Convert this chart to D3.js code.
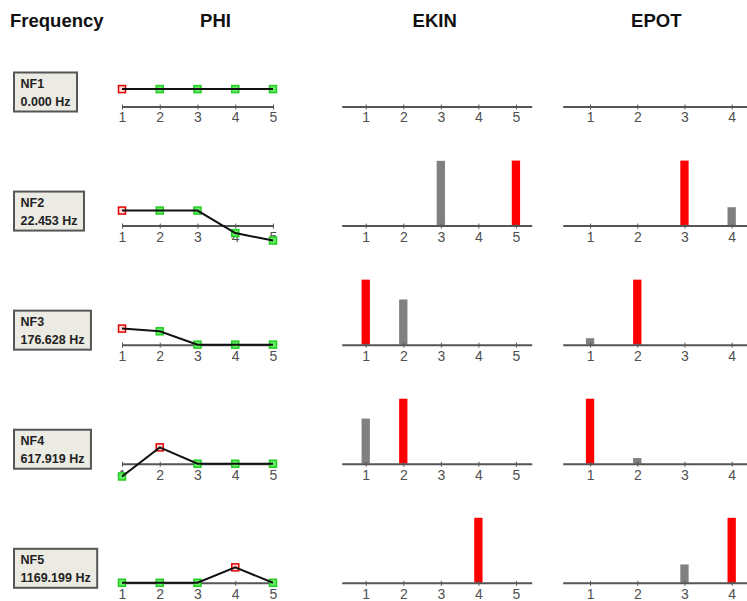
<!DOCTYPE html>
<html>
<head>
<meta charset="utf-8">
<script src="https://cdn.jsdelivr.net/npm/d3@7"></script>
<style>
  html, body { margin: 0; padding: 0; background: #fff; }
  svg { display: block; font-family: "Liberation Sans", Arial, sans-serif; }
</style>
</head>
<body>
<svg id="chart" width="747" height="601"></svg>
<script>
// ---- data ----
const columnHeaders = ["Frequency", "PHI", "EKIN", "EPOT"];
const modeNames = ["NF1", "NF2", "NF3", "NF4", "NF5"];
const modeFreqs = ["0.000 Hz", "22.453 Hz", "176.628 Hz", "617.919 Hz", "1169.199 Hz"];
const nodes = [1, 2, 3, 4, 5];
const epotVisibleTicks = [1, 2, 3, 4];
// PHI mode shape amplitudes (arbitrary units)
const phi1 = [1.16, 1.16, 1.16, 1.16, 1.16];
const phi2 = [1.0, 1.0, 1.0, -0.5, -1.0];
const phi3 = [1.07, 0.89, 0, 0, 0];
const phi4 = [-0.85, 1.09, 0, 0, 0];
const phi5 = [0, 0, 0, 1.03, 0];
// kinetic energy share (%)
const ekin1 = [0, 0, 0, 0, 0];
const ekin2 = [0, 0, 49.9, 0, 50.1];
const ekin3 = [59, 41, 0, 0, 0];
const ekin4 = [41, 59, 0, 0, 0];
const ekin5 = [0, 0, 0, 100, 0];
// potential energy share (%)
const epot1 = [0, 0, 0, 0, 0];
const epot2 = [0, 0, 78, 22, 0];
const epot3 = [9, 91, 0, 0, 0];
const epot4 = [92, 8, 0, 0, 0];
const epot5 = [0, 0, 22, 78, 0];

const phiRows = [phi1, phi2, phi3, phi4, phi5];
const ekinRows = [ekin1, ekin2, ekin3, ekin4, ekin5];
const epotRows = [epot1, epot2, epot3, epot4, epot5];

// ---- layout ----
const svg = d3.select("#chart");
const rowY = d3.scaleLinear().domain([0, 4]).range([106.5, 582.8]); // axis baseline of each row
const headerX = [10, 215.5, 434.7, 656.3];

const xPhi = d3.scaleLinear().domain([1, 5]).range([122, 273]);
const xEkin = d3.scaleLinear().domain([0.36, 5.42]).range([341.7, 531.7]);
const xEpot = d3.scaleLinear().domain([0.42, 5.42]).range([562.7, 798.7]);
const phiUnit = 15;
const barMax = 65;
const barW = 8.3;

const RED = "#ff0000", GRAY = "#808080";

// headers
svg.selectAll("text.hdr").data(columnHeaders).join("text")
  .attr("class", "hdr")
  .attr("x", (d, i) => headerX[i])
  .attr("y", 27)
  .attr("text-anchor", (d, i) => i === 0 ? "start" : "middle")
  .attr("font-size", 18.5)
  .attr("font-weight", "bold")
  .attr("fill", "#111")
  .text(d => d);

function styleAxis(g) {
  g.select(".domain").attr("stroke", "#555").attr("stroke-width", 2);
  g.selectAll(".tick line").attr("stroke", "#555").attr("stroke-width", 1).attr("y1", -2).attr("y2", 3);
  g.selectAll(".tick text").attr("fill", "#505050").attr("font-size", 14)
    .attr("font-family", "'Liberation Sans', Arial, sans-serif");
}

modeNames.forEach((name, r) => {
  const base = rowY(r);

  // frequency box
  const bg = svg.append("g");
  const t1 = bg.append("text").attr("x", 20.5).attr("y", base - 34 + 15)
    .attr("font-size", 12.5).attr("font-weight", "bold").attr("fill", "#222").text(name);
  const t2 = bg.append("text").attr("x", 20.5).attr("y", base - 34 + 33)
    .attr("font-size", 12.5).attr("font-weight", "bold").attr("fill", "#222").text(modeFreqs[r]);
  const w = Math.max(t1.node().getComputedTextLength(), t2.node().getComputedTextLength());
  bg.insert("rect", "text")
    .attr("x", 14).attr("y", base - 34)
    .attr("width", w + 13).attr("height", 39)
    .attr("fill", "#ebebe4").attr("stroke", "#555").attr("stroke-width", 2);

  // PHI
  const vals = phiRows[r];
  const yPhi = d3.scaleLinear().domain([-1, 1]).range([base + phiUnit, base - phiUnit]);
  const gp = svg.append("g");
  gp.append("g").attr("transform", `translate(0,${base})`)
    .call(d3.axisBottom(xPhi).tickValues(nodes).tickFormat(d3.format("d")).tickSize(3).tickSizeOuter(0).tickPadding(3))
    .call(styleAxis);
  const hi = d3.maxIndex(vals, v => Math.abs(v));
  gp.selectAll("rect.mk").data(vals).join("rect")
    .attr("class", "mk")
    .attr("x", (d, i) => xPhi(nodes[i]) - 3.5)
    .attr("y", d => yPhi(d) - 3.5)
    .attr("width", 7).attr("height", 7)
    .attr("fill", (d, i) => i === hi ? "#ffd8d8" : "#66ee66")
    .attr("stroke", (d, i) => i === hi ? "#e00000" : "#22cc22")
    .attr("stroke-width", 1.5);
  gp.append("path")
    .datum(vals)
    .attr("fill", "none").attr("stroke", "#111").attr("stroke-width", 2)
    .attr("d", d3.line().x((d, i) => xPhi(nodes[i])).y(d => yPhi(d)));

  // energy bar panels
  [[ekinRows[r], xEkin, nodes], [epotRows[r], xEpot, epotVisibleTicks]].forEach(([data, xs, ticks]) => {
    const g = svg.append("g");
    const mx = d3.max(data);
    const y = d3.scaleLinear().domain([0, mx || 1]).range([base, base - barMax]);
    const hiB = mx > 0 ? d3.maxIndex(data) : -1;
    g.selectAll("rect").data(data).join("rect")
      .attr("x", (d, i) => xs(nodes[i]) - barW / 2)
      .attr("y", d => y(d))
      .attr("width", barW)
      .attr("height", d => base - y(d))
      .attr("fill", (d, i) => i === hiB ? RED : GRAY);
    g.append("g").attr("transform", `translate(0,${base})`)
      .call(d3.axisBottom(xs).tickValues(ticks).tickFormat(d3.format("d")).tickSize(3).tickSizeOuter(0).tickPadding(3))
      .call(styleAxis);
  });
});
</script>
</body>
</html>
